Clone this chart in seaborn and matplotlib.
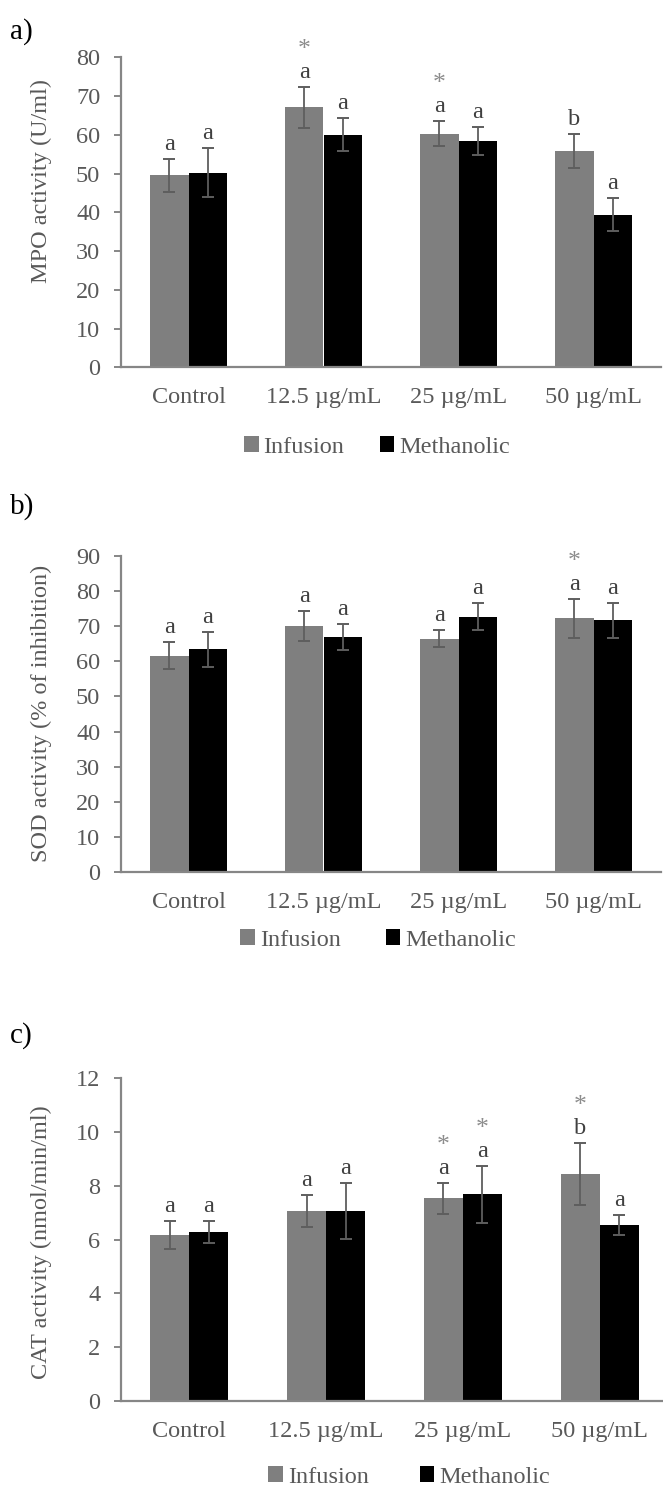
import numpy as np
import pandas as pd
import matplotlib
matplotlib.use('Agg')
import matplotlib.pyplot as plt
import seaborn as sns
from matplotlib.patches import Patch

# ---------------- data ----------------
categories = ['Control', '12.5 µg/mL', '25 µg/mL', '50 µg/mL']
series = ['Infusion', 'Methanolic']

mpo_inf = [49.5, 67.1, 60.3, 55.8]
mpo_inf_err = [4.3, 5.3, 3.3, 4.3]
mpo_meth = [50.2, 60.0, 58.3, 39.4]
mpo_meth_err = [6.3, 4.3, 3.6, 4.2]
mpo_letters_inf = ['a', 'a', 'a', 'b']
mpo_letters_meth = ['a', 'a', 'a', 'a']
mpo_star_inf = [False, True, True, False]
mpo_star_meth = [False, False, False, False]

sod_inf = [61.6, 70.1, 66.4, 72.2]
sod_inf_err = [3.8, 4.3, 2.4, 5.6]
sod_meth = [63.4, 66.8, 72.7, 71.6]
sod_meth_err = [4.9, 3.7, 3.8, 4.9]
sod_letters_inf = ['a', 'a', 'a', 'a']
sod_letters_meth = ['a', 'a', 'a', 'a']
sod_star_inf = [False, False, False, True]
sod_star_meth = [False, False, False, False]

cat_inf = [6.17, 7.06, 7.53, 8.44]
cat_inf_err = [0.52, 0.61, 0.57, 1.15]
cat_meth = [6.27, 7.06, 7.68, 6.53]
cat_meth_err = [0.41, 1.05, 1.07, 0.38]
cat_letters_inf = ['a', 'a', 'a', 'b']
cat_letters_meth = ['a', 'a', 'a', 'a']
cat_star_inf = [False, False, True, True]
cat_star_meth = [False, False, True, False]

ylabels = ['MPO activity (U/ml)', 'SOD activity (% of inhibition)', 'CAT activity (nmol/min/ml)']
tags = ['a)', 'b)', 'c)']

# ---------------- style ----------------
sns.set_style('white')
plt.rcParams['font.family'] = ['Liberation Serif', 'DejaVu Serif']

GRAY = '#7f7f7f'
AXC = '#868686'
TXT = '#595959'
ERR = '#5e5e5e'
FS = 17.5

W, H = 663, 1487
fig = plt.figure(figsize=(W / 100, H / 100), dpi=100)


def rect(left, right, top, bottom):
    return [left / W, 1 - bottom / H, (right - left) / W, (bottom - top) / H]


def panel(r, inf, inf_err, meth, meth_err, ylim, ystep, ylabel, ylab_y,
          let_inf, let_meth, st_inf, st_meth, tag, tag_y, leg_x, leg_y, colsp):
    ax = fig.add_axes(r)
    df = pd.DataFrame({
        'Group': categories * 2,
        'Extract': [series[0]] * len(categories) + [series[1]] * len(categories),
        'Value': list(inf) + list(meth),
    })
    sns.barplot(data=df, x='Group', y='Value', hue='Extract', hue_order=series,
                order=categories, palette=[GRAY, '#000000'], saturation=1,
                width=0.57, gap=0, errorbar=None, legend=False, linewidth=0, ax=ax)
    errs = [inf_err, meth_err]
    lets = [let_inf, let_meth]
    stars = [st_inf, st_meth]
    conts = list(ax.containers)[:2]
    for k, cont in enumerate(conts):
        for bar in cont:
            x = bar.get_x() + bar.get_width() / 2
            j = int(round(x))
            h = bar.get_height()
            e = errs[k][j]
            ax.errorbar(x, h, yerr=e, fmt='none', ecolor=ERR, elinewidth=1.3,
                        capsize=4.5, capthick=1.4, zorder=5)
            lab = ax.annotate(lets[k][j], (x, h + e), xytext=(0, 6.5), textcoords='offset points',
                              ha='center', va='baseline', fontsize=FS, color='#404040')
            if stars[k][j]:
                ax.annotate('*', xy=(0.5, 1.0), xycoords=lab, xytext=(0, 0.5),
                            textcoords='offset points', ha='center', va='bottom',
                            fontsize=FS + 1, color='#8c8c8c')
    ax.set_xlim(-0.5, len(categories) - 0.5)
    ax.set_ylim(*ylim)
    ax.set_yticks(np.arange(ylim[0], ylim[1] + ystep / 2, ystep))
    ax.set_xlabel('')
    ax.set_ylabel('')
    for s in ['top', 'right']:
        ax.spines[s].set_visible(False)
    for s in ['left', 'bottom']:
        ax.spines[s].set_color(AXC)
        ax.spines[s].set_linewidth(1.6)
    ax.tick_params(axis='y', length=5, width=1.4, color=AXC, labelcolor=TXT,
                   labelsize=FS, pad=10, left=True, direction='out')
    ax.tick_params(axis='x', length=0, labelcolor=TXT, labelsize=FS, pad=14.5)
    ax.patch.set_alpha(0)
    fig.text(41 / W, 1 - ylab_y / H, ylabel, rotation=90, ha='center', va='center',
             fontsize=FS, color=TXT)
    fig.text(10 / W, 1 - tag_y / H, tag, ha='left', va='center', fontsize=21, color='#000000')
    handles = [Patch(facecolor=GRAY, edgecolor='none'), Patch(facecolor='#000000', edgecolor='none')]
    fig.legend(handles, series, loc='center', bbox_to_anchor=(leg_x / W, 1 - leg_y / H),
               ncol=2, frameon=False, fontsize=FS, labelcolor=TXT, handlelength=0.6,
               handleheight=0.6, handletextpad=0.2, columnspacing=colsp, borderpad=0)
    return ax


panel(rect(121, 661, 57.3, 367.3), mpo_inf, mpo_inf_err, mpo_meth, mpo_meth_err,
      (0, 80), 10, ylabels[0], 181, mpo_letters_inf, mpo_letters_meth,
      mpo_star_inf, mpo_star_meth, tags[0], 32, 377, 447, 1.45)

panel(rect(121, 661, 555.7, 872.3), sod_inf, sod_inf_err, sod_meth, sod_meth_err,
      (0, 90), 10, ylabels[1], 713, sod_letters_inf, sod_letters_meth,
      sod_star_inf, sod_star_meth, tags[1], 507, 378, 940, 1.85)

panel(rect(121, 668, 1078.3, 1400.7), cat_inf, cat_inf_err, cat_meth, cat_meth_err,
      (0, 12), 2, ylabels[2], 1242, cat_letters_inf, cat_letters_meth,
      cat_star_inf, cat_star_meth, tags[2], 1036, 409, 1477, 2.1)

fig.savefig('out.png', dpi=100)
